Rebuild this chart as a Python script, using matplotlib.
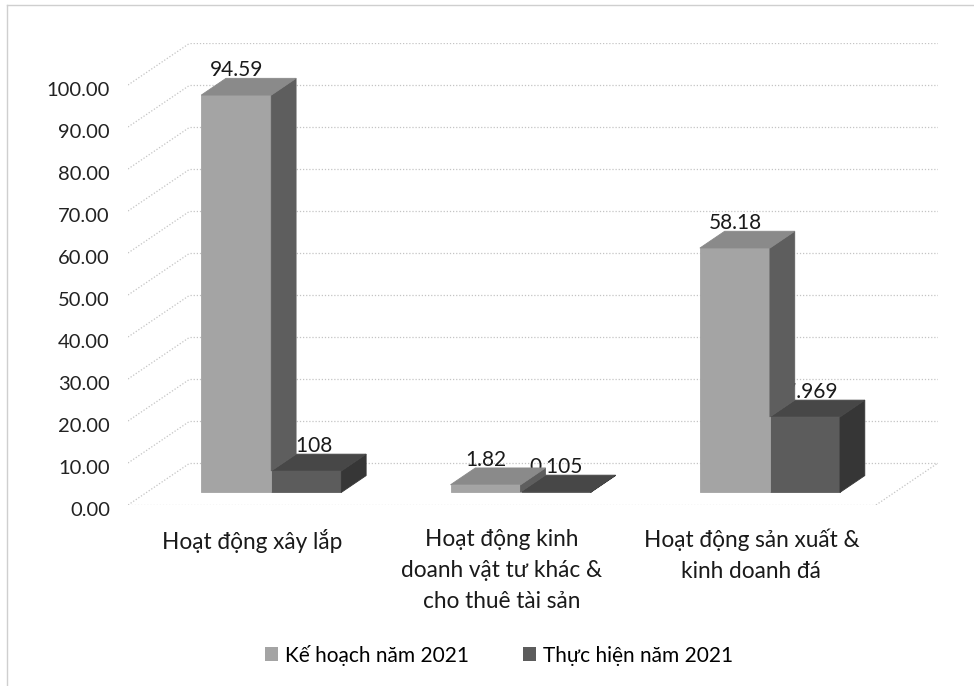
import matplotlib
matplotlib.use("Agg")
import matplotlib.pyplot as plt
import matplotlib.transforms as mtransforms
from matplotlib.patches import Polygon, Patch
from matplotlib.lines import Line2D

# ---------------- data ----------------
categories = [
    "Hoạt động xây lắp",
    "Hoạt động kinh\ndoanh vật tư khác &\ncho thuê tài sản",
    "Hoạt động sản xuất &\nkinh doanh đá",
]
series_names = ["Kế hoạch năm 2021", "Thực hiện năm 2021"]
ke_hoach = [94.59, 1.82, 58.18]
thuc_hien = [5.108, 0.105, 17.969]
labels_kh = ["94.59", "1.82", "58.18"]
labels_th = ["5.108", "0.105", "17.969"]
y_ticks = [0, 10, 20, 30, 40, 50, 60, 70, 80, 90, 100]

# ---------------- style ----------------
plt.rcParams["font.family"] = ["Lato", "Open Sans", "DejaVu Sans"]
CAT_FONT = ["Liberation Sans Narrow", "Lato", "Open Sans", "DejaVu Sans"]

LIGHT = {"front": "#a4a4a4", "top": "#8a8a8a", "side": "#5e5e5e"}
DARK = {"front": "#5c5c5c", "top": "#474747", "side": "#363636"}
GRID = "#c4c4c4"

DX = 0.2487   # full depth in category units
DY = 10.0     # full depth in value units
ZF, ZB = 0.3, 0.7
BW = 0.281

fig = plt.figure(figsize=(9.74, 6.86), dpi=100)
fig.patch.set_facecolor("white")
ax = fig.add_axes([128 / 974, (686 - 505) / 686, (938 - 128) / 974, (505 - 43) / 686])
ax.set_xlim(-0.5, 2.5 + DX)
ax.set_ylim(0, 110)
for s in ax.spines.values():
    s.set_visible(False)
ax.set_xticks([])
ax.set_yticks(y_ticks)
ax.set_yticklabels([f"{t:.2f}" for t in y_ticks], fontsize=14.5, color="#222222")
ax.tick_params(axis="y", length=0, pad=13)
shift = mtransforms.ScaledTranslation(0, -4 / 100, fig.dpi_scale_trans)
for lab in ax.get_yticklabels():
    lab.set_transform(lab.get_transform() + shift)
ax.patch.set_alpha(0)


def P(x, v, z):
    return (x + z * DX, v + z * DY)


# walls / gridlines
xl, xr = -0.5, len(categories) - 0.5
for t in y_ticks:
    bx0, by = P(xl, t, 1)
    bx1, _ = P(xr, t, 1)
    ax.plot([bx0, bx1], [by, by], color=GRID, lw=0.9, ls=(0, (1, 1.5)), zorder=0)
    fx, fy = P(xl, t, 0)
    ax.plot([fx, bx0], [fy, by], color=GRID, lw=0.9, ls=(0, (1, 1.5)), zorder=0)
# floor edges
ax.plot([xl, xr], [0, 0], color=GRID, lw=0.9, ls=(0, (1, 1.5)), zorder=0)
ax.plot([xr, P(xr, 0, 1)[0]], [0, P(xr, 0, 1)[1]], color=GRID, lw=0.9, ls=(0, (1, 1.5)), zorder=0)


def box(x0, x1, v, vside, colors, z):
    front = [P(x0, 0, ZF), P(x1, 0, ZF), P(x1, v, ZF), P(x0, v, ZF)]
    top = [P(x0, v, ZF), P(x1, v, ZF), P(x1, v, ZB), P(x0, v, ZB)]
    side = [P(x1, vside, ZF), P(x1, vside, ZB), P(x1, v, ZB), P(x1, v, ZF)]
    for pts, key in ((front, "front"), (side, "side"), (top, "top")):
        ax.add_patch(Polygon(pts, closed=True, facecolor=colors[key],
                             edgecolor=colors[key], lw=0.6, zorder=z))


for i, (kh, th) in enumerate(zip(ke_hoach, thuc_hien)):
    # dark (Thực hiện) bar, right of centre
    box(i, i + BW, th, 0, DARK, 2)
    ax.text(i + BW / 2 + ZF * DX, th + ZB * DY - 0.4, labels_th[i],
            ha="center", va="bottom", fontsize=15, color="#1a1a1a", zorder=3)
    # light (Kế hoạch) bar, left of centre; its right face hides the label start
    box(i - BW, i, kh, min(th, kh), LIGHT, 4)
    ax.text(i - BW / 2 + ZF * DX, kh + ZB * DY - 0.4, labels_kh[i],
            ha="center", va="bottom", fontsize=15, color="#1a1a1a", zorder=5)
    # category label
    ax.annotate(categories[i], xy=(i, 0), xycoords="data",
                xytext=(0, -17), textcoords="offset points",
                ha="center", va="top", fontsize=16.3, family=CAT_FONT,
                color="#1a1a1a", linespacing=1.6, annotation_clip=False)

handles = [Patch(facecolor=LIGHT["front"], edgecolor="none"),
           Patch(facecolor=DARK["front"], edgecolor="none")]
fig.legend(handles, series_names, loc="center", bbox_to_anchor=(0.512, 0.045),
           ncol=2, frameon=False, fontsize=15, handlelength=0.65,
           handleheight=0.65, handletextpad=0.3, columnspacing=2.6)

# chart-area frame (top and left edges visible in the scan)
fig.add_artist(Line2D([7 / 974, 7 / 974], [0, 1 - 5 / 686], transform=fig.transFigure,
                      color="#cfcfcf", lw=1))
fig.add_artist(Line2D([7 / 974, 1], [1 - 5 / 686, 1 - 5 / 686], transform=fig.transFigure,
                      color="#cfcfcf", lw=1))

fig.savefig("out.png", dpi=100, facecolor="white")
